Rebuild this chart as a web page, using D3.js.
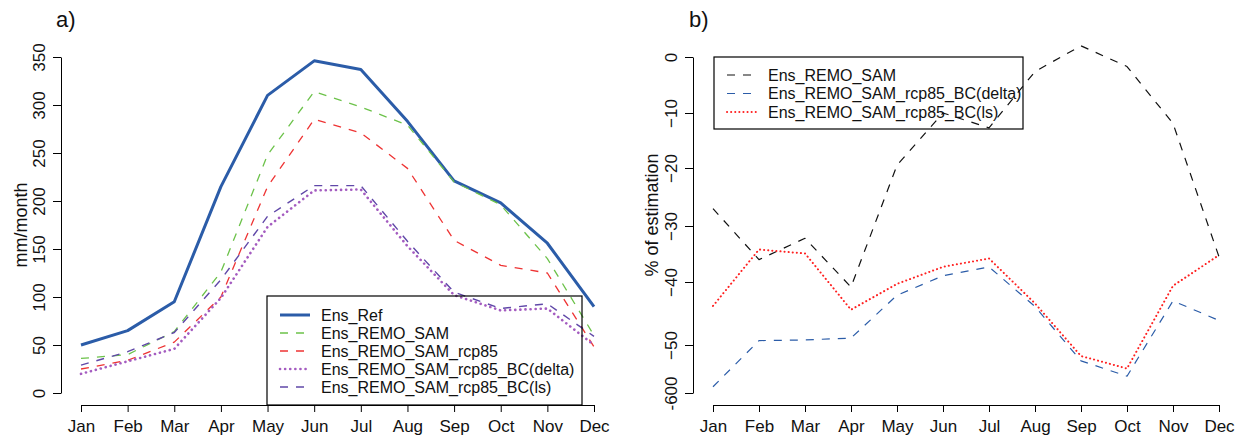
<!DOCTYPE html>
<html lang="en">
<head>
<meta charset="UTF-8">
<title>Monthly precipitation ensembles</title>
<style>
  html, body { margin: 0; padding: 0; background: #fff; }
  svg { display: block; font-family: "Liberation Sans", Arial, sans-serif; }
</style>
</head>
<body>
<svg id="svg" width="1247" height="438"></svg>
<script src="https://d3js.org/d3.v7.min.js"></script>
<script>
// ---- data ----
const months = ["Jan", "Feb", "Mar", "Apr", "May", "Jun", "Jul", "Aug", "Sep", "Oct", "Nov", "Dec"];

// panel a) mm/month
const ensRef     = [50, 65, 95, 215, 310, 346, 337, 283, 221, 198, 156, 90];
const remoSam    = [36, 40, 64, 126, 248, 314, 298, 279, 220, 196, 140, 60];
const remoRcp85  = [25, 34, 53, 100, 215, 285, 271, 234, 159, 133, 125, 48];
const bcDelta    = [20, 33, 46, 99, 173, 211, 212, 153, 102, 86, 88, 50];
const bcLs       = [29, 43, 63, 118, 184, 216, 216, 158, 105, 88, 93, 59];
const yTicksA    = [0, 50, 100, 150, 200, 250, 300, 350];

// panel b) % of estimation
const remoSamPct = [-27, -36, -32.2, -40.8, -19.5, -10, -12.7, -2.6, 2, -1.7, -11.9, -35.5];
const bcDeltaPct = [-58.7, -49.3, -49.2, -48.9, -42.1, -38.9, -37.3, -43.9, -53.3, -56.5, -43, -46.1];
const bcLsPct    = [-43.8, -34.2, -34.9, -44.4, -40.3, -37.3, -35.8, -43.4, -52.3, -54.9, -40.6, -35.2];
const yTicksB    = [0, -10, -20, -30, -40, -50, -60];
const yTickLabelsB = ["0", "\u221210", "\u221220", "\u221230", "\u221240", "\u221250", "-600"];

// ---- styles ----
const seriesA = [
  { name: "Ens_Ref", values: ensRef, color: "#2b5ca8", width: 3, dash: null },
  { name: "Ens_REMO_SAM", values: remoSam, color: "#6cc24a", width: 1.3, dash: "8,8" },
  { name: "Ens_REMO_SAM_rcp85", values: remoRcp85, color: "#ee3333", width: 1.3, dash: "8,8" },
  { name: "Ens_REMO_SAM_rcp85_BC(delta)", values: bcDelta, color: "#a45cc0", width: 2.6, dash: "0.1,5", cap: "round" },
  { name: "Ens_REMO_SAM_rcp85_BC(ls)", values: bcLs, color: "#6048a8", width: 1.4, dash: "8,8" }
];
const seriesB = [
  { name: "Ens_REMO_SAM", values: remoSamPct, color: "#111111", width: 1.2, dash: "8,8" },
  { name: "Ens_REMO_SAM_rcp85_BC(delta)", values: bcDeltaPct, color: "#2b5ca8", width: 1.2, dash: "8,8" },
  { name: "Ens_REMO_SAM_rcp85_BC(ls)", values: bcLsPct, color: "#ff2020", width: 2, dash: "0.1,4", cap: "round" }
];

const svg = d3.select("#svg");
const font = 17;
const legendFont = 16;

// ---- scales ----
const xA = d3.scalePoint().domain(months).range([81, 594]);
const yA = d3.scaleLinear().domain([0, 350]).range([393, 57]);
const xB = d3.scalePoint().domain(months).range([713, 1219]);
// the right axis in the original is not evenly spaced, so map tick by tick
const yB = d3.scaleLinear().domain(yTicksB).range([57, 113, 168, 226, 282, 345, 393]);

function drawPanel(x, y, axisX, axisY, ticks, tickLabels) {
  const gx = svg.append("g").attr("transform", `translate(0,${axisY})`)
    .call(d3.axisBottom(x).tickSize(7).tickSizeOuter(0));
  gx.selectAll(".tick text")
    .attr("y", 27).attr("dy", 0)
    .style("font-size", font + "px").attr("fill", "#111");

  const gy = svg.append("g").attr("transform", `translate(${axisX},0)`)
    .call(d3.axisLeft(y).tickValues(ticks).tickSize(8).tickSizeOuter(0)
      .tickFormat((d, i) => tickLabels ? tickLabels[i] : d));
  gy.selectAll(".tick text")
    .attr("x", 0).attr("dy", 0)
    .attr("text-anchor", "middle")
    .attr("transform", "translate(-16,0) rotate(-90)")
    .style("font-size", font + "px").attr("fill", "#111");

  [gx, gy].forEach(g => {
    g.select(".domain").attr("stroke", "#000");
    g.selectAll(".tick line").attr("stroke", "#000");
  });
}

function drawLines(series, x, y) {
  const line = d3.line().x((d, i) => x(months[i])).y(d => y(d));
  series.forEach(s => {
    svg.append("path")
      .datum(s.values)
      .attr("d", line)
      .attr("fill", "none")
      .attr("stroke", s.color)
      .attr("stroke-width", s.width)
      .attr("stroke-dasharray", s.dash)
      .attr("stroke-linecap", s.cap || "butt")
      .attr("stroke-linejoin", "round");
  });
}

function drawLegend(series, box, rowY, sampleX, textX) {
  svg.append("rect")
    .attr("x", box[0]).attr("y", box[1])
    .attr("width", box[2]).attr("height", box[3])
    .attr("fill", "none").attr("stroke", "#000").attr("stroke-width", 1.2);
  series.forEach((s, i) => {
    const yy = rowY[0] + i * rowY[1];
    svg.append("line")
      .attr("x1", sampleX[0]).attr("x2", sampleX[1])
      .attr("y1", yy).attr("y2", yy)
      .attr("stroke", s.color).attr("stroke-width", s.width)
      .attr("stroke-dasharray", s.dash)
      .attr("stroke-linecap", s.cap || "butt");
    svg.append("text")
      .attr("x", textX).attr("y", yy)
      .attr("dy", "0.35em")
      .style("font-size", legendFont + "px")
      .attr("fill", "#111")
      .text(s.name);
  });
}

// ---- panel a ----
drawPanel(xA, yA, 61, 405, yTicksA, null);
drawLines(seriesA, xA, yA);
drawLegend(seriesA, [267, 296, 315, 109], [315, 18], [280, 310], 321);
svg.append("text").attr("transform", "translate(27,225) rotate(-90)")
  .attr("text-anchor", "middle").style("font-size", "18px").attr("fill", "#111")
  .text("mm/month");
svg.append("text").attr("x", 56).attr("y", 27)
  .style("font-size", "22px").attr("fill", "#111").text("a)");

// ---- panel b ----
drawPanel(xB, yB, 693, 405, yTicksB, yTickLabelsB);
drawLines(seriesB, xB, yB);
drawLegend(seriesB, [714, 57, 309, 72], [75, 18.5], [727, 756], 768);
svg.append("text").attr("transform", "translate(658,215) rotate(-90)")
  .attr("text-anchor", "middle").style("font-size", "18px").attr("fill", "#111")
  .text("% of estimation");
svg.append("text").attr("x", 689).attr("y", 27)
  .style("font-size", "22px").attr("fill", "#111").text("b)");
</script>
</body>
</html>
